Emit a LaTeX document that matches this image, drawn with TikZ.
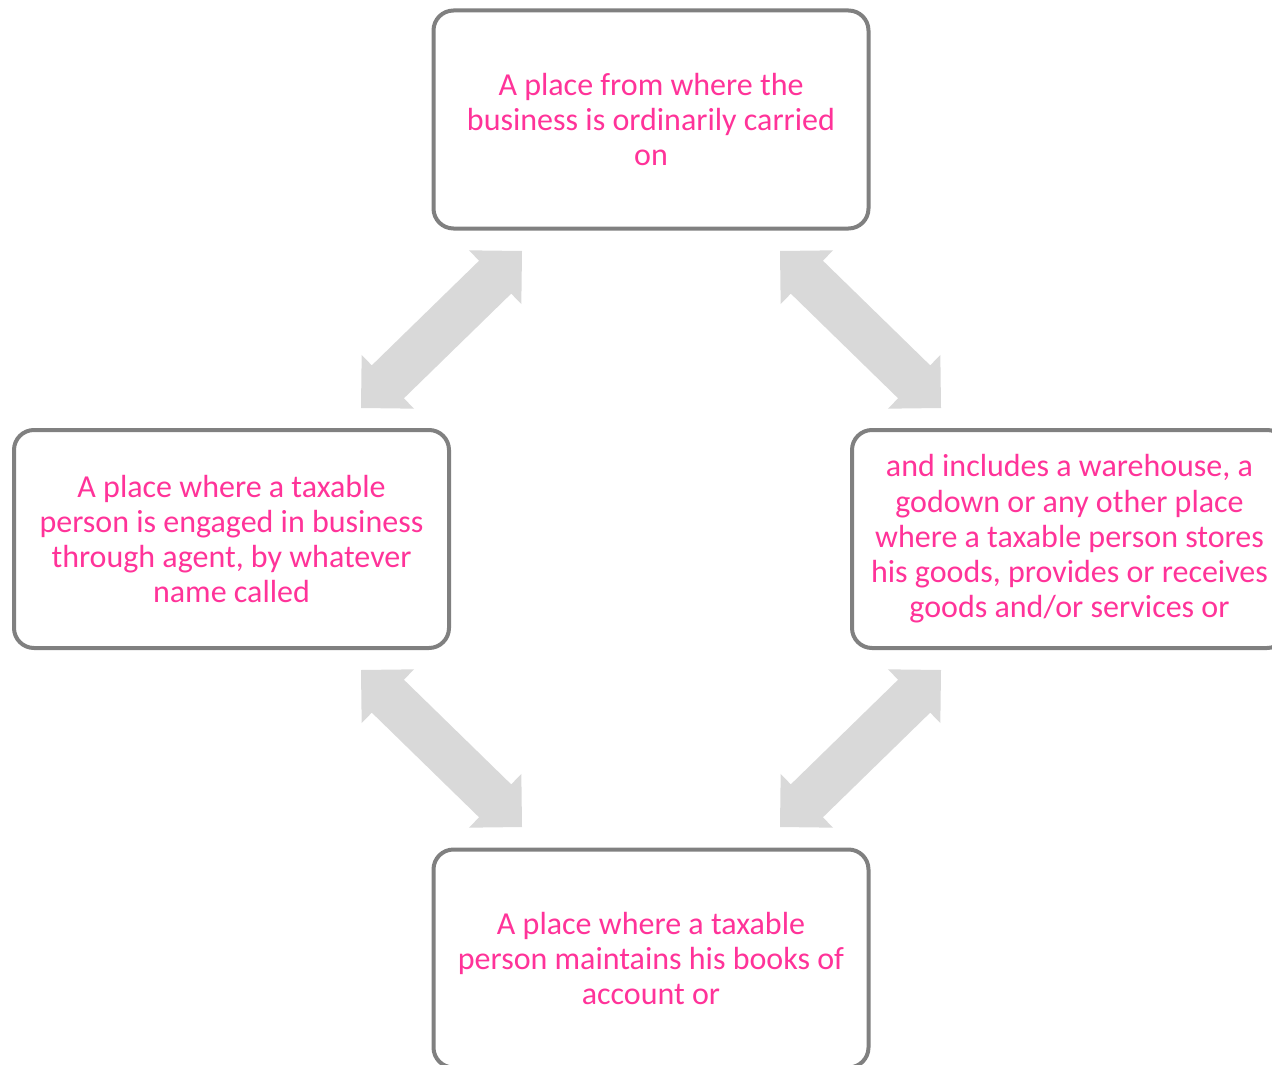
\documentclass[tikz,border=0pt]{standalone}
\usepackage{fontspec}
\setmainfont{Carlito}
\usetikzlibrary{calc}
\definecolor{boxline}{HTML}{808080}
\definecolor{textpink}{HTML}{FF3399}
\definecolor{arrowgray}{HTML}{D9D9D9}

% block double arrow between two tip coordinates
\newcommand{\blockarrow}[2]{%
  \fill[arrowgray]
    (#1)
    -- ($(#1)!37.5pt!(#2)!37.5pt!90:(#2)$)
    -- ($(#1)!37.5pt!(#2)!23pt!90:(#2)$)
    -- ($(#2)!37.5pt!(#1)!23pt!-90:(#1)$)
    -- ($(#2)!37.5pt!(#1)!37.5pt!-90:(#1)$)
    -- (#2)
    -- ($(#2)!37.5pt!(#1)!37.5pt!90:(#1)$)
    -- ($(#2)!37.5pt!(#1)!23pt!90:(#1)$)
    -- ($(#1)!37.5pt!(#2)!23pt!-90:(#2)$)
    -- ($(#1)!37.5pt!(#2)!37.5pt!-90:(#2)$)
    -- cycle;}

\begin{document}
\begin{tikzpicture}[x=1pt,y=-1pt,
  infobox/.style={draw=boxline, line width=4pt, rounded corners=20pt,
    fill=white, minimum width=435pt, minimum height=218pt,
    align=center, text=textpink, inner sep=0pt,
    font=\fontsize{32pt}{35.3pt}\selectfont}]
\useasboundingbox (0,0) rectangle (1272,1065);

\node[infobox] (top) at (651,119.5)
  {A place from where the\\business is ordinarily carried\\on};
\node[infobox] (left) at (231.5,539)
  {A place where a taxable\\person is engaged in business\\through agent, by whatever\\name called};
\node[infobox] (right) at (1069.5,539)
  {and includes a warehouse, a\\godown or any other place\\where a taxable person stores\\his goods, provides or receives\\goods and/or services or};
\node[infobox] (bottom) at (651,958.5)
  {A place where a taxable\\person maintains his books of\\account or};

% arrow tips next to the facing box corners
\coordinate (tl1) at ([shift={(-129,20.5)}]top.south);
\coordinate (tl2) at ([shift={(129.5,-20)}]left.north);
\coordinate (tr1) at ([shift={(129,20.5)}]top.south);
\coordinate (tr2) at ([shift={(-128.5,-20)}]right.north);
\coordinate (bl1) at ([shift={(129.5,20)}]left.south);
\coordinate (bl2) at ([shift={(-129,-20.5)}]bottom.north);
\coordinate (br1) at ([shift={(-128.5,20)}]right.south);
\coordinate (br2) at ([shift={(129,-20.5)}]bottom.north);

\blockarrow{tl1}{tl2}
\blockarrow{tr1}{tr2}
\blockarrow{bl1}{bl2}
\blockarrow{br1}{br2}
\end{tikzpicture}
\end{document}
